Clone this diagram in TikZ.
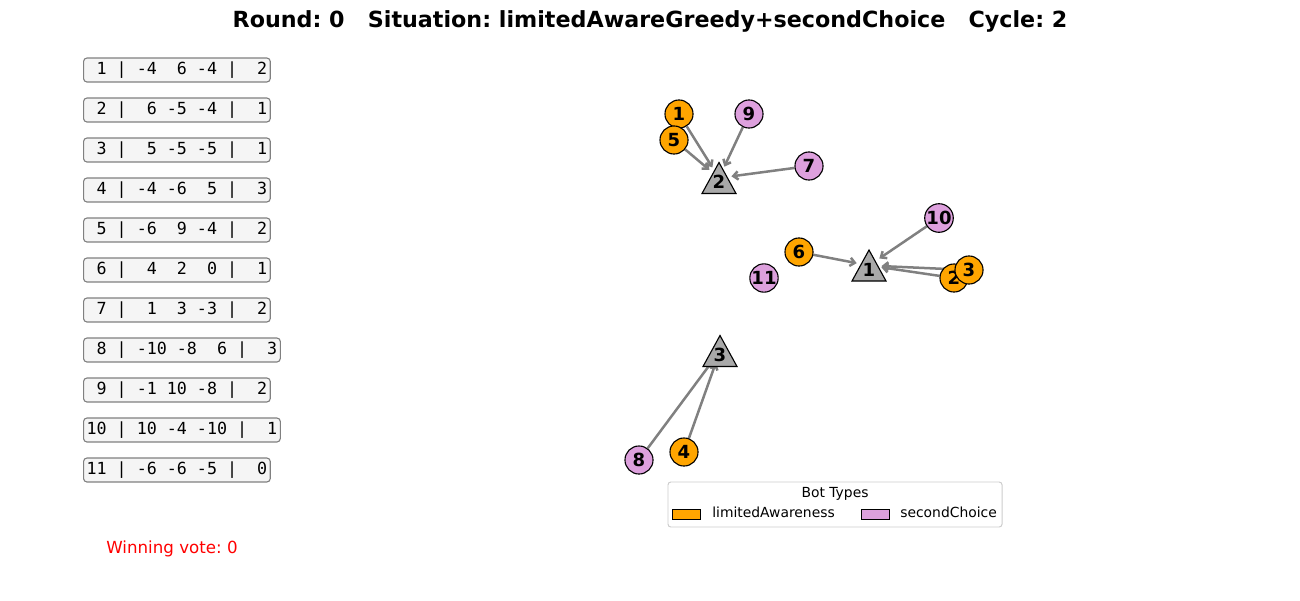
\documentclass[tikz,border=0pt]{standalone}
\usepackage{fontspec}
\setmainfont{DejaVu Sans}
\setmonofont{DejaVu Sans Mono}
\usetikzlibrary{arrows.meta}
\frenchspacing
\definecolor{orng}{HTML}{FFA500}
\definecolor{plm}{HTML}{DDA0DD}
\definecolor{dgray}{HTML}{A9A9A9}
\definecolor{rowfill}{HTML}{F5F5F5}
\definecolor{edgegray}{HTML}{808080}
\definecolor{legedge}{HTML}{CCCCCC}
\pgfdeclarelayer{bg}
\pgfsetlayers{bg,main}
\tikzset{
  rowbox/.style={draw=edgegray, line width=0.8pt, fill=rowfill, rounded corners=2.5pt,
    anchor=west, inner xsep=2.2pt, inner ysep=0pt, minimum height=17.3pt,
    font=\fontsize{12pt}{14pt}\ttfamily},
  voter/.style={circle, draw=black, line width=0.8pt, minimum size=20.2pt, inner sep=0pt,
    font=\fontsize{13pt}{15pt}\bfseries},
  la/.style={voter, fill=orng},
  sc/.style={voter, fill=plm},
  candtri/.style={fill=dgray, draw=black, line width=0.8pt},
  candlbl/.style={inner sep=0pt, font=\fontsize{13pt}{15pt}\bfseries},
  vote/.style={draw=edgegray, line width=1.8pt, -{Straight Barb[length=3.5pt,width=6pt]}, shorten >=9pt},
}
\newcommand{\tri}[2]{%
  \filldraw[candtri] ([shift={(0,-15.5)}]#1) -- ([shift={(-17,15.5)}]#1) -- ([shift={(17,15.5)}]#1) -- cycle;
  \node[candlbl] (#2) at ([shift={(0,4)}]#1) {\phantom{0}};}
\begin{document}
\begin{tikzpicture}[x=0.72pt, y=-0.72pt]
\useasboundingbox (0,0) rectangle (1300,600);

% title
\node[font=\fontsize{16pt}{19pt}\bfseries] (title) at (650,21) {Round: 0~~~Situation: limitedAwareGreedy+secondChoice~~~Cycle: 2};

% table rows
\node[rowbox] (r1) at (83,70) {~1~|~-4~~6~-4~|~~2};
\node[rowbox] (r2) at (83,110) {~2~|~~6~-5~-4~|~~1};
\node[rowbox] (r3) at (83,150) {~3~|~~5~-5~-5~|~~1};
\node[rowbox] (r4) at (83,190) {~4~|~-4~-6~~5~|~~3};
\node[rowbox] (r5) at (83,230) {~5~|~-6~~9~-4~|~~2};
\node[rowbox] (r6) at (83,270) {~6~|~~4~~2~~0~|~~1};
\node[rowbox] (r7) at (83,310) {~7~|~~1~~3~-3~|~~2};
\node[rowbox] (r8) at (83,350) {~8~|~-10~-8~~6~|~~3};
\node[rowbox] (r9) at (83,390) {~9~|~-1~10~-8~|~~2};
\node[rowbox] (r10) at (83,430) {10~|~10~-4~-10~|~~1};
\node[rowbox] (r11) at (83,470) {11~|~-6~-6~-5~|~~0};

\node[text=red, font=\fontsize{12pt}{14pt}\selectfont] (win) at (172,549) {Winning vote: 0};

% candidates
\coordinate (t1) at (869,265.5);
\coordinate (t2) at (719,178);
\coordinate (t3) at (720,351);
\tri{t1}{c1}
\tri{t2}{c2}
\tri{t3}{c3}
\node[candlbl] at (c1) {1};
\node[candlbl] at (c2) {2};
\node[candlbl] at (c3) {3};

% voters
\node[la] (v1) at (679,114) {1};
\node[la] (v2) at (954,278) {2};
\node[la] (v3) at (969,270) {3};
\node[la] (v4) at (684,452) {4};
\node[la] (v5) at (674,140) {5};
\node[la] (v6) at (799,252) {6};
\node[sc] (v7) at (809,166) {7};
\node[sc] (v8) at (639,460) {8};
\node[sc] (v9) at (749,114) {9};
\node[sc] (v10) at (939,218) {10};
\node[sc] (v11) at (764,278) {11};

% votes
\begin{pgfonlayer}{bg}
\draw[vote] (v1) -- (t2);
\draw[vote] (v5) -- (t2);
\draw[vote] (v9) -- (t2);
\draw[vote] (v7) -- (t2);
\draw[vote] (v6) -- (t1);
\draw[vote] (v10) -- (t1);
\draw[vote] (v2) -- (t1);
\draw[vote] (v3) -- (t1);
\draw[vote] (v8) -- (t3);
\draw[vote] (v4) -- (t3);
\end{pgfonlayer}

% legend
\node[draw=legedge, fill=white, rounded corners=2pt, line width=0.7pt, minimum width=334*0.72pt, minimum height=45*0.72pt, inner sep=0pt] (leg) at (835,504.5) {};
\node[font=\fontsize{10pt}{12pt}\selectfont] (legt) at (835,494) {Bot Types};
\node[draw=black, fill=orng, line width=0.7pt, minimum width=28*0.72pt, minimum height=10*0.72pt, inner sep=0pt] (p1) at (686,514) {};
\node[anchor=mid west, inner sep=0pt, font=\fontsize{10pt}{12pt}\selectfont] (l1) at (712,514) {limitedAwareness};
\node[draw=black, fill=plm, line width=0.7pt, minimum width=28*0.72pt, minimum height=10*0.72pt, inner sep=0pt] (p2) at (875.5,514) {};
\node[anchor=mid west, inner sep=0pt, font=\fontsize{10pt}{12pt}\selectfont] (l2) at (900,514) {secondChoice};
\end{tikzpicture}
\end{document}
